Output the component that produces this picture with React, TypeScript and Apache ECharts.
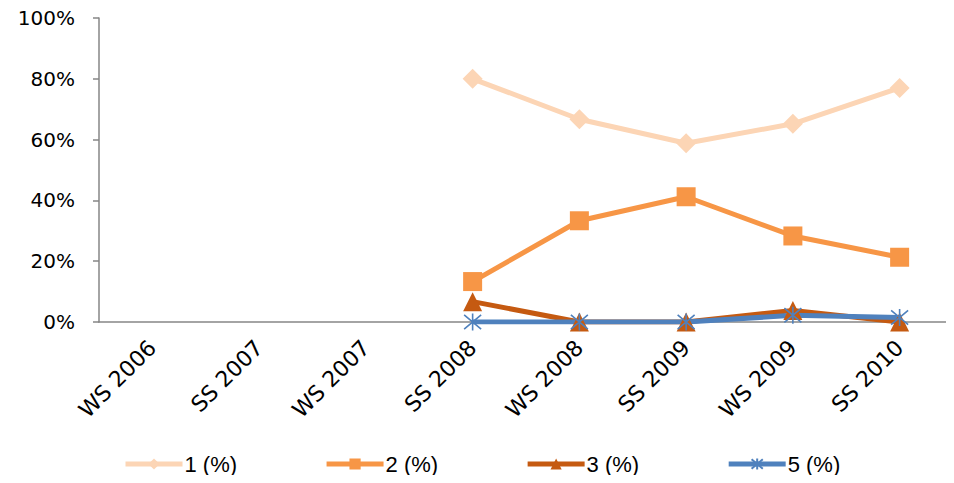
import React, { useEffect, useRef } from "react";
import * as echarts from "echarts";

const categories = ["WS 2006", "SS 2007", "WS 2007", "SS 2008", "WS 2008", "SS 2009", "WS 2009", "SS 2010"];
const series1 = [null, null, null, 80.0, 66.7, 58.8, 65.2, 77.0];
const series2 = [null, null, null, 13.3, 33.3, 41.2, 28.3, 21.3];
const series3 = [null, null, null, 6.7, 0.0, 0.0, 3.8, 0.0];
const series5 = [null, null, null, 0.0, 0.0, 0.0, 2.2, 1.5];
const seriesNames = ["1 (%)", "2 (%)", "3 (%)", "5 (%)"];
const yTicks = [0, 20, 40, 60, 80, 100];

const ASTERISK = "path://M0,0L10,10M10,0L0,10M5,-1L5,11";

export default function App() {
  const ref = useRef<HTMLDivElement>(null);
  useEffect(() => {
    if (!ref.current) return;
    const chart = echarts.init(ref.current, undefined, { renderer: "svg" });
    const mk = (name: string, data: (number | null)[], color: string, symbol: string, size: number) => ({
      name,
      type: "line",
      data,
      symbol,
      symbolSize: size,
      showSymbol: true,
      connectNulls: false,
      lineStyle: { color, width: 5 },
      itemStyle: { color },
      emphasis: { disabled: true },
    });
    chart.setOption({
      animation: false,
      backgroundColor: "#ffffff",
      grid: { left: 99, right: 1, top: 18, bottom: 161, containLabel: false },
      xAxis: {
        type: "category",
        data: categories,
        boundaryGap: true,
        axisLine: { show: true, lineStyle: { color: "#868686", width: 1.5 } },
        axisTick: { show: false },
        axisLabel: {
          rotate: 45,
          interval: 0,
          margin: 22,
          color: "#000",
          fontFamily: "DejaVu Sans",
          fontSize: 22,
        },
      },
      yAxis: {
        type: "value",
        min: 0,
        max: 100,
        interval: 20,
        axisLine: { show: true, lineStyle: { color: "#868686", width: 1.5 } },
        axisTick: { show: true, length: 6, lineStyle: { color: "#868686", width: 1.5 } },
        splitLine: { show: false },
        axisLabel: {
          margin: 24,
          color: "#000",
          fontFamily: "DejaVu Sans",
          fontSize: 20,
          formatter: (v: number) => (yTicks.includes(v) ? v + "%" : ""),
        },
      },
      legend: {
        bottom: 3,
        left: 118,
        itemWidth: 57,
        itemHeight: 14,
        itemGap: 87,
        lineStyle: { width: 5 },
        textStyle: { fontFamily: "Liberation Sans", fontSize: 22, color: "#000", padding: [0, 0, 0, -3] },
        data: seriesNames,
      },
      series: [
        mk(seriesNames[0], series1, "#FCD5B5", "diamond", 20),
        mk(seriesNames[1], series2, "#F79646", "rect", 19),
        mk(seriesNames[2], series3, "#C55A11", "triangle", 19),
        {
          ...mk(seriesNames[3], series5, "#4F81BD", ASTERISK, 17),
          itemStyle: { color: "none", borderColor: "#4F81BD", borderWidth: 1.6 },
        },
      ],
    });
    return () => chart.dispose();
  }, []);
  return <div ref={ref} style={{ width: 954, height: 483, margin: -8 }} />;
}
